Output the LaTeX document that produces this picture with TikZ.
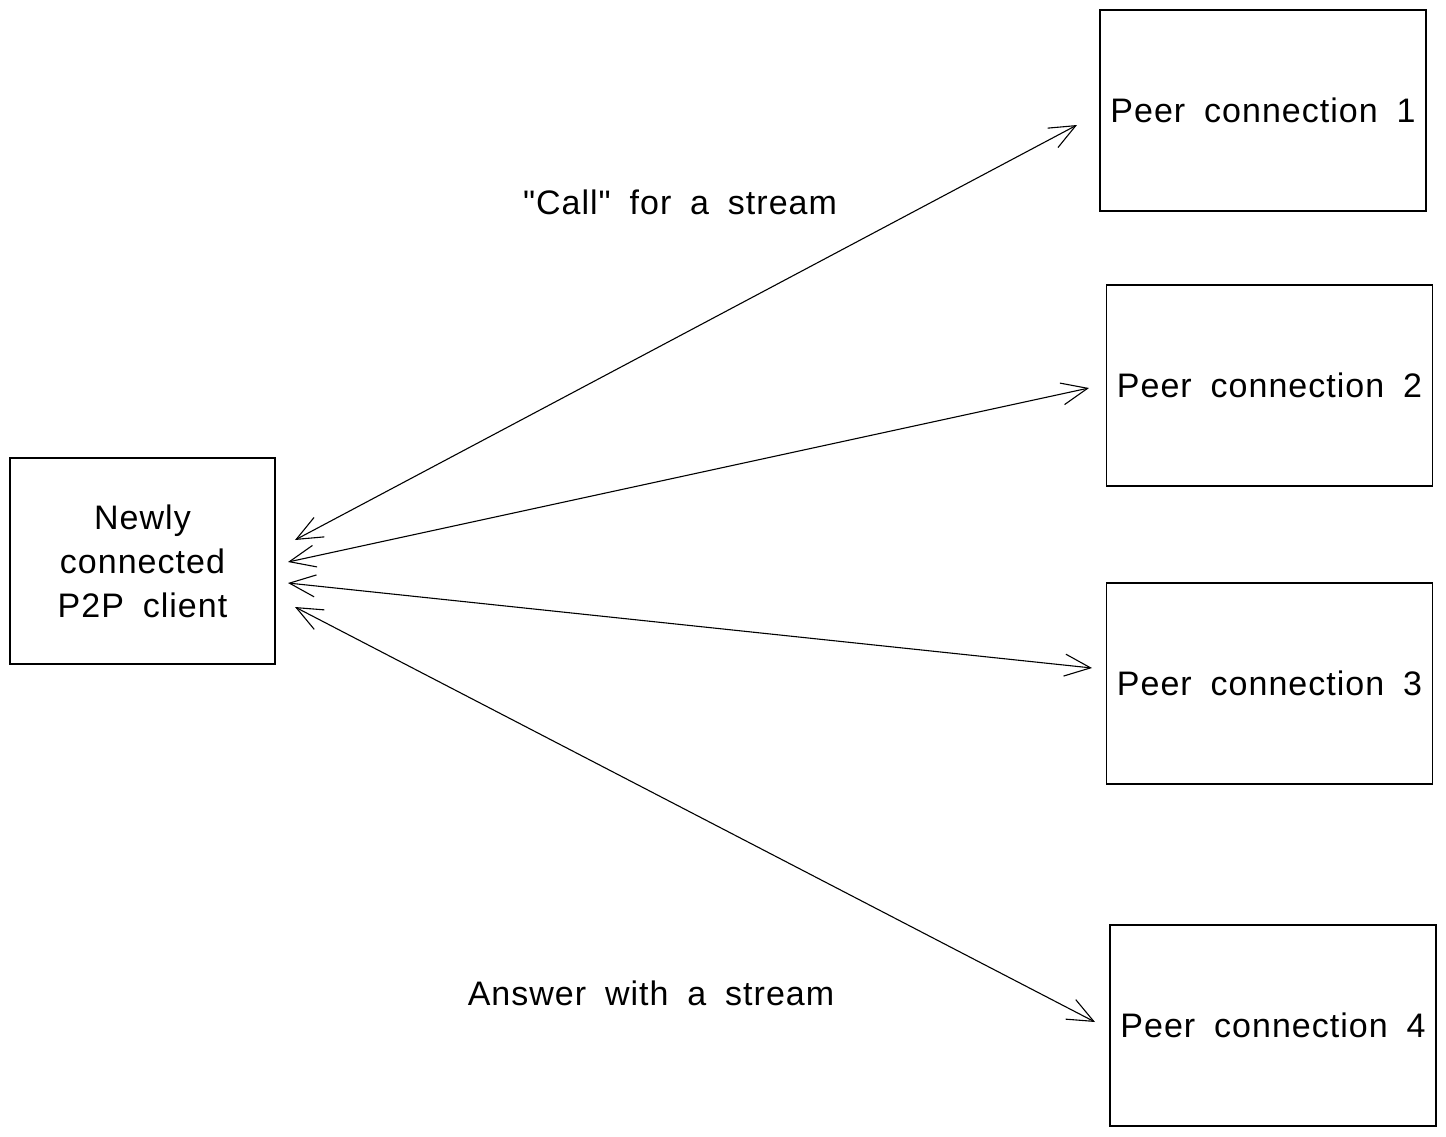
\documentclass[tikz,border=0pt]{standalone}
\usepackage{fontspec}
\setmainfont{Liberation Sans}[LetterSpace=3,WordSpace=1.8,Ligatures=TeXOff]
\usetikzlibrary{arrows.meta}
\begin{document}
\begin{tikzpicture}[x=1pt,y=-1pt,
  box/.style={draw, line width=1.2pt, minimum width=326pt, minimum height=201pt, inner sep=0pt, font=\fontsize{34}{44}\selectfont},
  lbl/.style={font=\fontsize{34}{44}\selectfont, inner sep=0pt},
  conn/.style={line width=1.1pt, {Straight Barb[length=26pt,width=22pt,line width=1.1pt]}-{Straight Barb[length=26pt,width=22pt,line width=1.1pt]}}]
\useasboundingbox[fill=white] (0,0) rectangle (1446,1136);
\node[box, minimum width=265pt, minimum height=206pt, align=center] (client) at (142.5,561) {Newly\\connected\\P2P client};
\node[box] (pc1) at (1263,110.5) {Peer connection 1};
\node[box] (pc2) at (1269.5,385.5) {Peer connection 2};
\node[box] (pc3) at (1269.5,683.5) {Peer connection 3};
\node[box] (pc4) at (1273,1025.5) {Peer connection 4};
\coordinate (a1s) at (295,540); \coordinate (a1e) at (1077,125);
\coordinate (a2s) at (288,562); \coordinate (a2e) at (1089,388);
\coordinate (a3s) at (288,583); \coordinate (a3e) at (1092,668);
\coordinate (a4s) at (295,607); \coordinate (a4e) at (1095,1022);
\draw[conn] (a1s) -- (a1e);
\draw[conn] (a2s) -- (a2e);
\draw[conn] (a3s) -- (a3e);
\draw[conn] (a4s) -- (a4e);
\node[lbl] (call) at (680,202) {"Call" for a stream};
\node[lbl] (answer) at (651,993) {Answer with a stream};
\end{tikzpicture}
\end{document}
